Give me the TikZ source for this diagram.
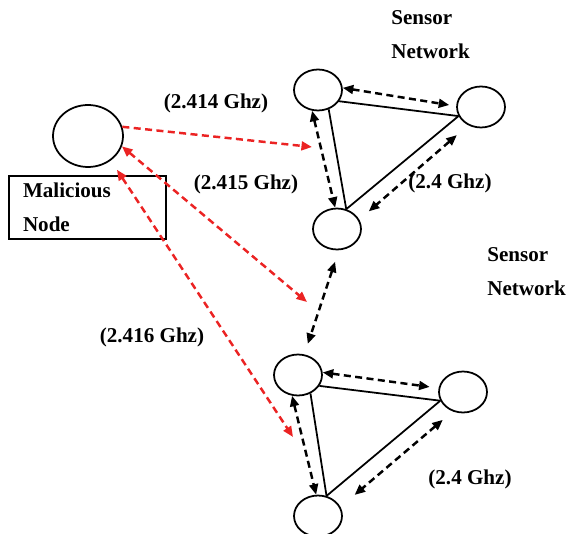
\documentclass[tikz,border=0pt]{standalone}
\usepackage{fontspec}
\setmainfont{Liberation Serif}
\usetikzlibrary{arrows.meta,shapes.geometric}
\definecolor{jamred}{RGB}{235,35,35}

\begin{document}
\begin{tikzpicture}[x=0.02cm,y=-0.02cm,
        >={Triangle[length=6pt,width=5pt]},
        sensor/.style={draw,ellipse,line width=1pt,minimum width=0.96cm,minimum height=0.82cm,inner sep=0pt},
        link/.style={line width=1pt},
        radio/.style={line width=1.4pt,dash pattern=on 4pt off 2.5pt},
        jam/.style={radio,jamred},
        lbl/.style={font=\bfseries\fontsize{12}{19.3}\selectfont,inner sep=0pt}]
    \useasboundingbox (0,0) rectangle (573,533);
        % malicious node
    \node[sensor,minimum width=1.4cm,minimum height=1.24cm] (mal) at (88,136) {};
    \node[draw,line width=1pt,lbl,align=left,text width=2.58cm,inner xsep=0.28cm,minimum height=1.26cm] (malbox) at (87.5,207.5) {Malicious\\Node};
        % sensor nodes
    \node[sensor] (a1) at (318,90) {};
    \node[sensor] (b1) at (481,107) {};
    \node[sensor] (c1) at (337,229) {};
    \node[sensor] (a2) at (298,375) {};
    \node[sensor] (b2) at (463,392) {};
    \node[sensor] (c2) at (318,516) {};
        % labels
    \node[lbl,anchor=west,align=left] (net1) at (391,35) {Sensor\\Network};
    \node[lbl,anchor=west,align=left] (net2) at (487,271.5) {Sensor\\Network};
    \node[lbl] (f1) at (216,103) {(2.414 Ghz)};
    \node[lbl] (f2) at (246,184) {(2.415 Ghz)};
    \node[lbl] (f3) at (152,337) {(2.416 Ghz)};
    \node[lbl] (f4) at (450,183) {(2.4 Ghz)};
    \node[lbl] (f5) at (470,479) {(2.4 Ghz)};
    \coordinate (r1) at (312,147);
    \coordinate (r2) at (307,302);
    \coordinate (r3) at (293,437);
        % top network
    \draw[link] (a1.-28) -- (b1.202);
    \draw[link] (a1.-61) -- (c1.65);
    \draw[link] (b1.202) -- (c1.65);
    \draw[radio,<->,shorten >=0.14cm] (a1.5) -- (b1.178);
    \draw[radio,<->] (a1.254) -- (c1.95);
    \draw[radio,<->,shorten <=0.3cm,shorten >=0.25cm] (b1.235) -- (c1.23);
        % between the networks
    \draw[radio,<->,shorten <=0.24cm,shorten >=0.22cm] (c1.275) -- (a2.73);
        % bottom network
    \draw[link] (a2.-27) -- (b2.201);
    \draw[link] (a2.-56) -- (c2.67);
    \draw[link] (b2.201) -- (c2.67);
    \draw[radio,<->,shorten >=0.18cm] (a2.6) -- (b2.171);
    \draw[radio,<->] (a2.254) -- (c2.95);
    \draw[radio,<->,shorten <=0.26cm,shorten >=0.37cm] (b2.242) -- (c2.22);
        % malicious links
    \draw[jam,->] (mal.15) -- (r1);
    \draw[jam,<->] (mal.-17) -- (r2);
    \draw[jam,<->,shorten <=0.22cm] (mal.-47) -- (r3);
\end{tikzpicture}
\end{document}
